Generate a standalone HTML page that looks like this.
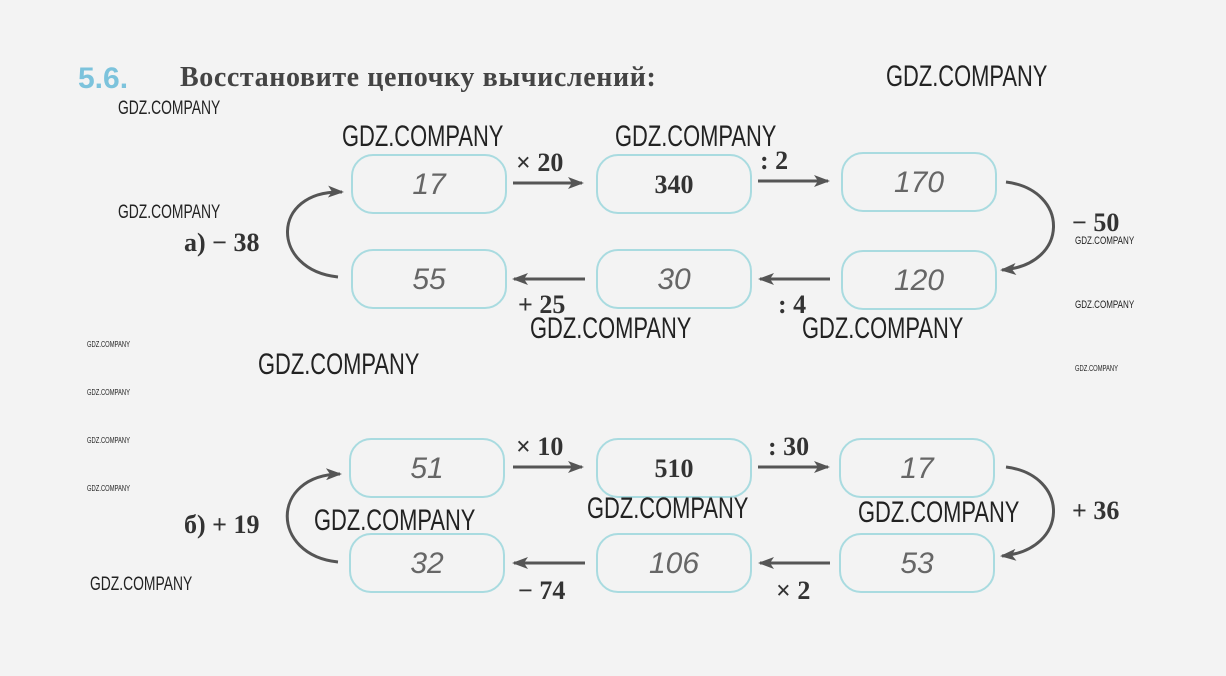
<!DOCTYPE html>
<html><head><meta charset="utf-8"><style>
body{margin:0;width:1226px;height:676px;background:#f3f3f3;overflow:hidden;position:relative;font-family:"Liberation Serif",serif;color:#333}
.a{position:absolute;white-space:nowrap}
.box{position:absolute;width:156px;height:60px;border:2px solid #a9dbe0;border-radius:22px;box-sizing:border-box;text-align:center;line-height:58px;font-size:30px;font-style:italic;color:#666;font-family:"Liberation Sans",sans-serif}
.box.p{font-style:normal;font-family:"Liberation Serif",serif;font-weight:bold;color:#333;font-size:26px}
.w{position:absolute;font-family:"Liberation Sans",sans-serif;color:#222;white-space:nowrap;transform:scaleX(0.73);transform-origin:left}
.op{position:absolute;font-size:26px;font-weight:bold;color:#333;white-space:nowrap}
</style></head><body>
<div class="a" style="left:78px;top:62px;font-size:30px;font-weight:bold;color:#7cc3dc;font-family:'Liberation Sans',sans-serif">5.6.</div>
<div class="a" style="left:180px;top:62px;font-size:28px;font-weight:bold;color:#444;letter-spacing:0.6px">Восстановите цепочку вычислений:</div>

<div class="box" style="left:351px;top:154px">17</div>
<div class="box p" style="left:596px;top:154px">340</div>
<div class="box" style="left:841px;top:152px">170</div>
<div class="box" style="left:351px;top:249px">55</div>
<div class="box" style="left:596px;top:249px">30</div>
<div class="box" style="left:841px;top:250px">120</div>

<div class="box" style="left:349px;top:438px">51</div>
<div class="box p" style="left:596px;top:438px">510</div>
<div class="box" style="left:839px;top:438px">17</div>
<div class="box" style="left:349px;top:533px">32</div>
<div class="box" style="left:596px;top:533px">106</div>
<div class="box" style="left:839px;top:533px">53</div>

<div class="op" style="left:516px;top:148px">× 20</div>
<div class="op" style="left:760px;top:146px">: 2</div>
<div class="op" style="left:1072px;top:208px">− 50</div>
<div class="op" style="left:778px;top:290px">: 4</div>
<div class="op" style="left:518px;top:290px">+ 25</div>
<div class="op" style="left:184px;top:228px">а) − 38</div>

<div class="op" style="left:516px;top:432px">× 10</div>
<div class="op" style="left:768px;top:432px">: 30</div>
<div class="op" style="left:1072px;top:496px">+ 36</div>
<div class="op" style="left:776px;top:576px">× 2</div>
<div class="op" style="left:518px;top:576px">− 74</div>
<div class="op" style="left:184px;top:510px">б) + 19</div>

<svg class="a" style="left:0;top:0" width="1226" height="676">
<defs><marker id="m" markerWidth="16" markerHeight="12" refX="14" refY="6" orient="auto" markerUnits="userSpaceOnUse"><path d="M0,0 L16,6 L0,12 L4,6 Z" fill="#555"/></marker></defs>
<g stroke="#555" stroke-width="3" fill="none" marker-end="url(#m)">
<line x1="513" y1="183" x2="582" y2="183"/>
<line x1="758" y1="181" x2="828" y2="181"/>
<line x1="585" y1="279" x2="514" y2="279"/>
<line x1="830" y1="279" x2="760" y2="279"/>
<path d="M338,277 C270,270 270,190 342,192"/>
<path d="M1006,182 C1070,190 1070,265 1002,270"/>
<line x1="513" y1="467" x2="582" y2="467"/>
<line x1="758" y1="467" x2="828" y2="467"/>
<line x1="585" y1="563" x2="514" y2="563"/>
<line x1="830" y1="563" x2="760" y2="563"/>
<path d="M338,562 C270,555 270,475 340,474"/>
<path d="M1006,467 C1070,475 1070,550 1002,556"/>
</g></svg>

<div class="w" style="left:886px;top:60px;font-size:30px">GDZ.COMPANY</div>
<div class="w" style="left:118px;top:98px;font-size:19px">GDZ.COMPANY</div>
<div class="w" style="left:342px;top:120px;font-size:30px">GDZ.COMPANY</div>
<div class="w" style="left:615px;top:120px;font-size:30px">GDZ.COMPANY</div>
<div class="w" style="left:118px;top:202px;font-size:19px">GDZ.COMPANY</div>
<div class="w" style="left:1075px;top:235px;font-size:11px">GDZ.COMPANY</div>
<div class="w" style="left:1075px;top:299px;font-size:11px">GDZ.COMPANY</div>
<div class="w" style="left:530px;top:312px;font-size:30px">GDZ.COMPANY</div>
<div class="w" style="left:802px;top:312px;font-size:30px">GDZ.COMPANY</div>
<div class="w" style="left:87px;top:340px;font-size:8px">GDZ.COMPANY</div>
<div class="w" style="left:258px;top:348px;font-size:30px">GDZ.COMPANY</div>
<div class="w" style="left:1075px;top:364px;font-size:8px">GDZ.COMPANY</div>
<div class="w" style="left:87px;top:388px;font-size:8px">GDZ.COMPANY</div>
<div class="w" style="left:87px;top:436px;font-size:8px">GDZ.COMPANY</div>
<div class="w" style="left:87px;top:484px;font-size:8px">GDZ.COMPANY</div>
<div class="w" style="left:587px;top:492px;font-size:30px">GDZ.COMPANY</div>
<div class="w" style="left:858px;top:496px;font-size:30px">GDZ.COMPANY</div>
<div class="w" style="left:314px;top:504px;font-size:30px">GDZ.COMPANY</div>
<div class="w" style="left:90px;top:574px;font-size:19px">GDZ.COMPANY</div>
</body></html>
